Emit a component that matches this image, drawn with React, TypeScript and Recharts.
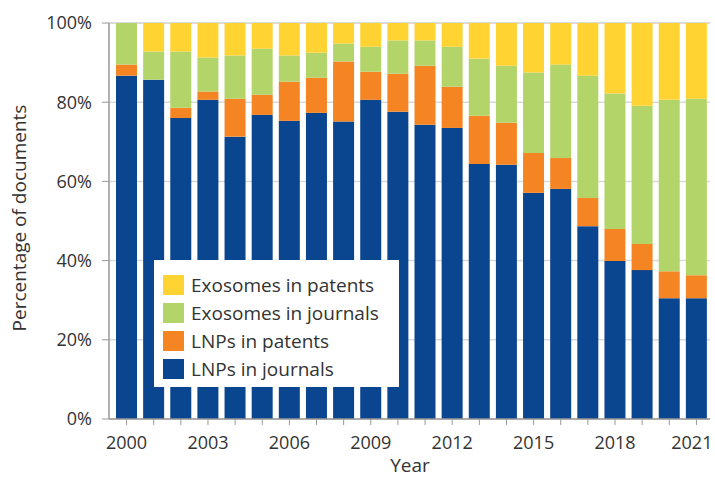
import React from 'react';
import { BarChart, Bar, XAxis, YAxis, CartesianGrid } from 'recharts';

const years = [2000, 2001, 2002, 2003, 2004, 2005, 2006, 2007, 2008, 2009, 2010, 2011, 2012, 2013, 2014, 2015, 2016, 2017, 2018, 2019, 2020, 2021];
const lnpJournals = [86.7, 85.7, 76.0, 80.6, 71.3, 76.8, 75.3, 77.3, 75.1, 80.6, 77.6, 74.3, 73.5, 64.4, 64.2, 57.1, 58.1, 48.7, 39.9, 37.6, 30.5, 30.5];
const lnpPatents = [2.8, 0, 2.6, 2.1, 9.6, 5.1, 9.9, 8.9, 15.2, 7.1, 9.6, 14.9, 10.4, 12.2, 10.6, 10.1, 7.8, 7.1, 8.1, 6.6, 6.8, 5.8];
const exoJournals = [10.5, 7.1, 14.2, 8.6, 10.9, 11.6, 6.6, 6.3, 4.5, 6.3, 8.4, 6.4, 10.1, 14.4, 14.4, 20.3, 23.6, 30.9, 34.2, 34.9, 43.3, 44.6];
const exoPatents = [0, 7.2, 7.2, 8.7, 8.2, 6.5, 8.2, 7.5, 5.2, 6.0, 4.4, 4.4, 6.0, 9.0, 10.8, 12.5, 10.5, 13.3, 17.8, 20.9, 19.4, 19.1];
const yTicks = [0, 20, 40, 60, 80, 100];
const xTickLabels = [2000, 2003, 2006, 2009, 2012, 2015, 2018, 2021];

const series = [
  { key: 'lnpJournals', name: 'LNPs in journals', color: '#0A458F' },
  { key: 'lnpPatents', name: 'LNPs in patents', color: '#F58422' },
  { key: 'exoJournals', name: 'Exosomes in journals', color: '#B3D468' },
  { key: 'exoPatents', name: 'Exosomes in patents', color: '#FFD332' },
];

const data = years.map((y, i) => ({
  year: y,
  lnpJournals: lnpJournals[i],
  lnpPatents: lnpPatents[i],
  exoJournals: exoJournals[i],
  exoPatents: exoPatents[i],
}));

const FONT = '"Open Sans", Lato, sans-serif';
const TEXT = '#333333';

const LegendBox = () => (
  <div
    style={{
      position: 'absolute', left: 154, top: 260, zIndex: 5,
      background: '#fff', width: 245, height: 127, boxSizing: 'border-box', paddingTop: 11,
    }}
  >
    {[...series].reverse().map((s) => (
      <div key={s.key} style={{ display: 'flex', alignItems: 'center', height: 28, paddingLeft: 9 }}>
        <div style={{ width: 21, height: 20, background: s.color, marginRight: 7, flexShrink: 0 }} />
        <span style={{ fontFamily: FONT, fontSize: 19, color: TEXT, whiteSpace: 'nowrap', lineHeight: '28px' }}>{s.name}</span>
      </div>
    ))}
  </div>
);

export default function App() {
  return (
    <div style={{ position: 'absolute', left: 0, top: 0, width: 715, height: 479, background: '#fff' }}>
      <BarChart
        width={715}
        height={479}
        data={data}
        margin={{ top: 23, right: 5, bottom: 0, left: 0 }}
        barSize={21}
        style={{ fontFamily: FONT }}
      >
        <CartesianGrid vertical={false} stroke="#d9d9d9" strokeWidth={1.5} />
        <XAxis
          dataKey="year"
          height={60}
          padding={{ left: 4, right: 0 }}
          interval={0}
          tickLine={{ stroke: '#999' }}
          axisLine={{ stroke: '#999', strokeWidth: 1.5 }}
          tickSize={6}
          tick={({ x, y, payload, index }: any) => {
            const last = index === years.length - 1;
            return (
              <text
                x={last ? x + 16 : x}
                y={y + 22}
                textAnchor={last ? 'end' : 'middle'}
                fontFamily={FONT}
                fontSize={18}
                fill={TEXT}
              >
                {xTickLabels.includes(payload.value) ? payload.value : ''}
              </text>
            );
          }}
          label={{
            content: () => (
              <text x={410} y={472} textAnchor="middle" fontSize={19} fill={TEXT} fontFamily={FONT}>
                Year
              </text>
            ),
          }}
        />
        <YAxis
          width={109}
          domain={[0, 100]}
          ticks={yTicks}
          tickFormatter={(v: number) => `${v}%`}
          tickLine={{ stroke: '#999' }}
          axisLine={{ stroke: '#999', strokeWidth: 1.5 }}
          tickSize={7}
          tickMargin={10}
          tick={{ fontSize: 18, fill: TEXT, fontFamily: FONT }}
          label={{
            content: () => (
              <text x={19} y={218} transform="rotate(-90 19 218)" textAnchor="middle" dominantBaseline="central" fontSize={19} fill={TEXT} fontFamily={FONT}>
                Percentage of documents
              </text>
            ),
          }}
        />
        {series.map((s) => (
          <Bar key={s.key} dataKey={s.key} name={s.name} stackId="a" fill={s.color} isAnimationActive={false} />
        ))}
      </BarChart>
      <LegendBox />
    </div>
  );
}
